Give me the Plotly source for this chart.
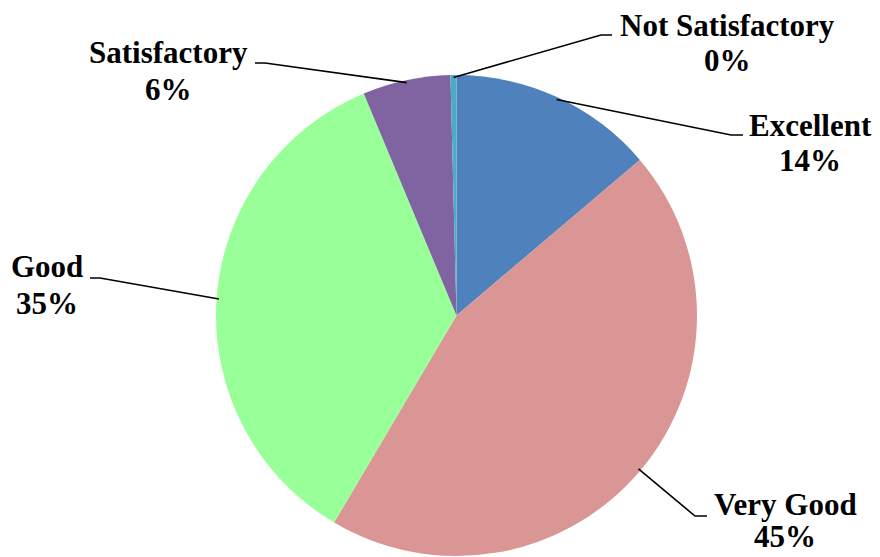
import math
import plotly.graph_objects as go

# ---- data ----
labels = ["Excellent", "Very Good", "Good", "Satisfactory", "Not Satisfactory"]
values = [13.8, 44.7, 35.2, 5.9, 0.4]
colors = ["#4F81BD", "#D99694", "#99FF99", "#8064A2", "#4BACC6"]

# ---- layout constants (pixels) ----
W, H = 880, 557
PIE_CX, PIE_CY, PIE_R = 456.5, 315.5, 240.5
FONT = dict(family="Liberation Serif", size=31, color="black")

# label placement: elbow point, end of horizontal stub, text centre x, y of the two text lines
label_layout = {
    "Excellent":        dict(elbow=(731, 135), end=743, tx=810, ty=(125, 161)),
    "Very Good":        dict(elbow=(695, 516), end=707, tx=785, ty=(504, 536)),
    "Good":             dict(elbow=(100, 278), end=90,  tx=47,  ty=(266, 303)),
    "Satisfactory":     dict(elbow=(265, 63),  end=255, tx=168, ty=(53, 90)),
    "Not Satisfactory": dict(elbow=(601, 35),  end=612, tx=727, ty=(25, 61)),
}


def px(x, y):
    return x / W, 1 - y / H


fig = go.Figure()
fig.add_trace(go.Pie(
    labels=labels, values=values, sort=False, direction="clockwise", rotation=0,
    marker=dict(colors=colors, line=dict(width=0)),
    textinfo="none", hoverinfo="label+percent", showlegend=False,
    domain=dict(x=[(PIE_CX - PIE_R) / W, (PIE_CX + PIE_R) / W],
                y=[1 - (PIE_CY + PIE_R) / H, 1 - (PIE_CY - PIE_R) / H]),
))

total = sum(values)
cum = 0.0
shapes, annotations = [], []
for lab, v in zip(labels, values):
    mid = 2 * math.pi * (cum + v / 2) / total
    cum += v
    ax = PIE_CX + 0.99 * PIE_R * math.sin(mid)
    ay = PIE_CY - 0.99 * PIE_R * math.cos(mid)
    L = label_layout[lab]
    ex, ey = L["elbow"]
    p0, p1, p2 = px(ax, ay), px(ex, ey), px(L["end"], ey)
    shapes.append(dict(type="path", xref="paper", yref="paper",
                       path=f"M {p0[0]},{p0[1]} L {p1[0]},{p1[1]} L {p2[0]},{p2[1]}",
                       line=dict(color="black", width=1.6)))
    pct = f"{round(100 * v / total)}%"
    for txt, ty in zip([lab, pct], L["ty"]):
        x, y = px(L["tx"], ty)
        annotations.append(dict(text=f"<b>{txt}</b>", x=x, y=y, xref="paper", yref="paper",
                                xanchor="center", yanchor="middle", showarrow=False,
                                font=FONT))

fig.update_layout(
    width=W, height=H, autosize=False,
    margin=dict(l=0, r=0, t=0, b=0),
    paper_bgcolor="white", plot_bgcolor="white",
    shapes=shapes, annotations=annotations,
)

fig.write_html("out.html", config={"displayModeBar": False},
               post_script="document.body.style.margin='0px';")
